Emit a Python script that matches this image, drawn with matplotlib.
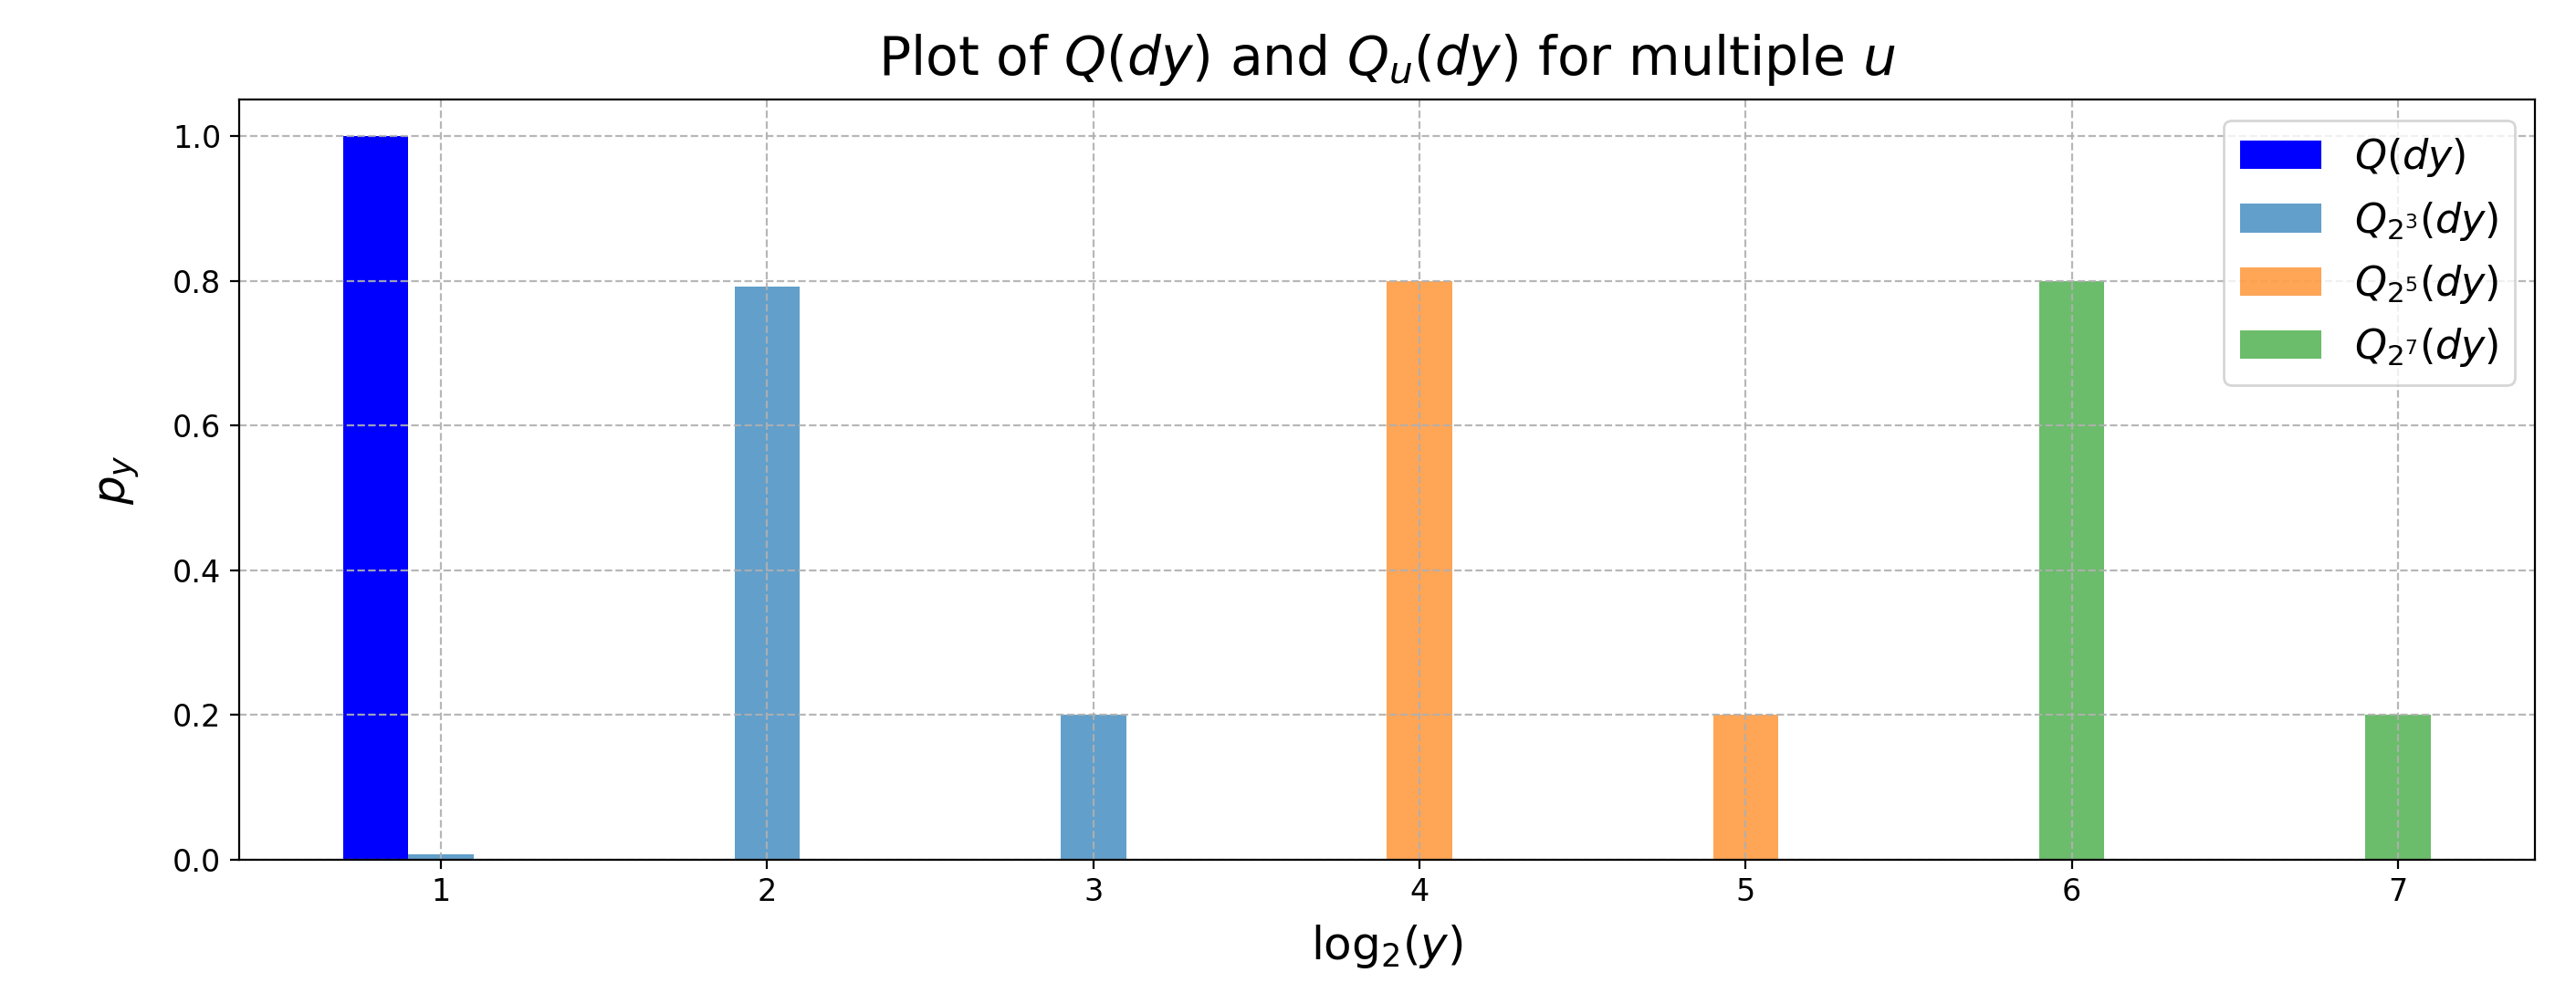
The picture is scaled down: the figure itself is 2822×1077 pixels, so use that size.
import matplotlib
matplotlib.use("Agg")
import matplotlib.pyplot as plt
import numpy as np

# log2(y) positions and probabilities
q_pos = [1]
q_vals = [1.0]

q8_pos = [1, 2, 3]
q8_vals = [0.0078, 0.7922, 0.2]

q32_pos = [4, 5]
q32_vals = [0.8, 0.2]

q128_pos = [6, 7]
q128_vals = [0.8, 0.2]

xticks = [1, 2, 3, 4, 5, 6, 7]
bar_width = 0.2

fig, ax = plt.subplots(figsize=(14.11, 5.385))
fig.subplots_adjust(left=0.0927, right=0.9841, top=0.8985, bottom=0.1256)

ax.bar(np.array(q_pos) - bar_width, q_vals, width=bar_width, color='blue', label=r'$Q(dy)$')
ax.bar(q8_pos, q8_vals, width=bar_width, color='tab:blue', alpha=0.7, label=r'$Q_{2^3}(dy)$')
ax.bar(q32_pos, q32_vals, width=bar_width, color='tab:orange', alpha=0.7, label=r'$Q_{2^5}(dy)$')
ax.bar(q128_pos, q128_vals, width=bar_width, color='tab:green', alpha=0.7, label=r'$Q_{2^7}(dy)$')

ax.set_xticks(xticks)
ax.tick_params(labelsize=12)
ax.set_xlabel(r'log$_2$($y$)', fontsize=18, labelpad=6)
ax.set_ylabel(r'$p_y$', fontsize=18, labelpad=12)
ax.set_title(r'Plot of $Q(dy)$ and $Q_u(dy)$ for multiple $u$', fontsize=21, pad=10)
ax.grid(True, linestyle='--', alpha=0.9)
ax.legend(loc='upper right', fontsize=16)

plt.savefig("out.png", dpi=200)
